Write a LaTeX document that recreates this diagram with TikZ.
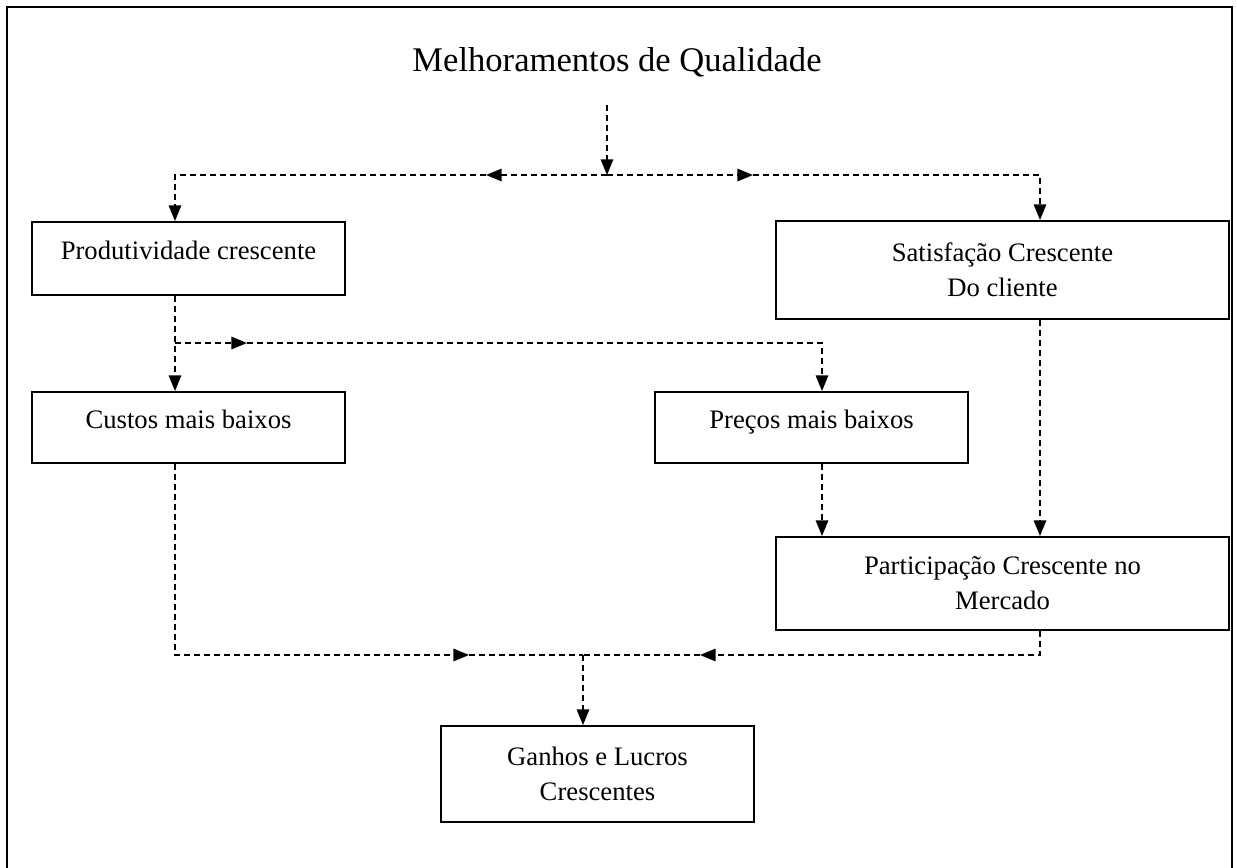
\documentclass[tikz,border=0pt]{standalone}
\usepackage{fontspec}
\setmainfont{Liberation Serif}
\usepackage{tikz}
\usetikzlibrary{positioning, calc, arrows.meta}

\begin{document}
\begin{tikzpicture}[x=0.48pt, y=-0.48pt,
					StepBox/.style={rectangle, draw, line width=1pt, align=center, inner sep=2pt, font=\fontsize{12.8}{16.8}\selectfont},
					OneLine/.style={text height=9pt, text depth=8.5pt},
					FlowLine/.style={line width=0.7pt, dash pattern=on 3pt off 1.8pt, -{Triangle[length=7.5pt, width=6pt]}}]

				\useasboundingbox (0,0) rectangle (1237,868);
				\draw[line width=1.4pt] (7,868) -- (7,7) -- (1232,7) -- (1232,868);

				\node[font=\fontsize{16.6}{19}\selectfont] (Title) at (617,62) {Melhoramentos de Qualidade};

				\node[StepBox, OneLine, minimum width=150pt, minimum height=35pt] (Prod) at (188.5,258.5) {Produtividade crescente};
				\node[StepBox, minimum width=217.4pt, minimum height=47pt] (Satisf) at (1002.5,270) {Satisfação Crescente\\Do cliente};
				\node[StepBox, OneLine, minimum width=150pt, minimum height=34pt] (Custos) at (188.5,427.5) {Custos mais baixos};
				\node[StepBox, OneLine, minimum width=150pt, minimum height=34pt] (Precos) at (811.5,427.5) {Preços mais baixos};
				\node[StepBox, minimum width=217.4pt, minimum height=44.6pt] (Partic) at (1002.5,583.5) {Participação Crescente no\\Mercado};
				\node[StepBox, minimum width=150pt, minimum height=46pt] (Ganhos) at (597.5,774) {Ganhos e Lucros\\Crescentes};

				% columns of the connectors
				\coordinate (ColL) at (175,0);
				\coordinate (ColM) at (822,0);
				\coordinate (ColR) at (1040,0);
				\coordinate (ColC) at (583,0);

				\coordinate (Top) at (607,105);
				\coordinate (SplitA) at (607,175);
				\coordinate (ArrL) at (486,175);
				\coordinate (ArrR) at (753,175);
				\coordinate (SplitB) at (175,343);
				\coordinate (ArrB) at (247,343);
				\coordinate (SplitC) at (583,655);
				\coordinate (ArrC1) at (469,655);
				\coordinate (ArrC2) at (700,655);

				\draw[FlowLine] (Top) -- (SplitA);
				\draw[FlowLine] (SplitA) -- (ArrL);
				\draw[FlowLine] (ArrL) -- (ColL |- SplitA) -- (ColL |- Prod.north);
				\draw[FlowLine] (SplitA) -- (ArrR);
				\draw[FlowLine] (ArrR) -- (ColR |- SplitA) -- (ColR |- Satisf.north);

				\draw[FlowLine] (ColL |- Prod.south) -- (ColL |- Custos.north);
				\draw[FlowLine] (SplitB) -- (ArrB);
				\draw[FlowLine] (ArrB) -- (ColM |- SplitB) -- (ColM |- Precos.north);
				\draw[FlowLine] (ColM |- Precos.south) -- (ColM |- Partic.north);
				\draw[FlowLine] (ColR |- Satisf.south) -- (ColR |- Partic.north);

				\draw[FlowLine] (ColL |- Custos.south) -- (ColL |- SplitC) -- (ArrC1);
				\draw[FlowLine, -] (ArrC1) -- (SplitC);
				\draw[FlowLine] (ColR |- Partic.south) -- (ColR |- SplitC) -- (ArrC2);
				\draw[FlowLine, -] (ArrC2) -- (SplitC);
				\draw[FlowLine] (SplitC) -- (ColC |- Ganhos.north);
			\end{tikzpicture}
\end{document}
